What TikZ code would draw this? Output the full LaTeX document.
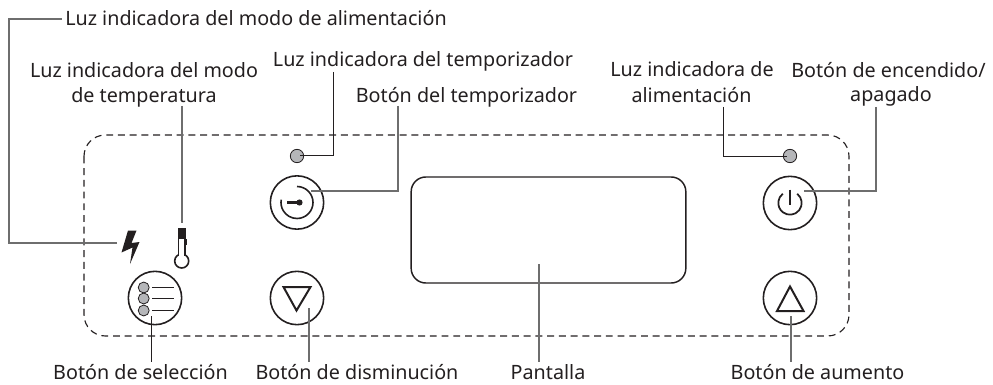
\documentclass[tikz,border=0pt]{standalone}
\usepackage{fontspec}
\setmainfont{Noto Sans}
\definecolor{ink}{HTML}{231F20}
\definecolor{ledgray}{HTML}{B5B6B9}
\definecolor{leadgray}{HTML}{6E6E6E}
\tikzset{
  label text/.style={anchor=base,inner sep=0pt,text=ink,font=\fontsize{14.8}{17}\selectfont},
  btn/.style={circle,draw=ink,line width=1.2pt,minimum size=40pt,inner sep=0pt},
  led/.style={circle,draw=ink,fill=ledgray,line width=0.6pt,minimum size=10pt,inner sep=0pt},
  leader/.style={draw=leadgray,line width=0.9pt},
  darkleader/.style={draw=ink,line width=0.7pt},
  icon/.style={draw=ink,line width=1.5pt},
}
\begin{document}
\begin{tikzpicture}[x=0.75pt,y=-0.75pt]
\useasboundingbox (0,0) rectangle (993,385);
% panel
\draw[ink,line width=0.85pt,dash pattern=on 5.2pt off 3.6pt,rounded corners=16pt] (84,135) rectangle (849,336);
\node[draw=ink,line width=1.1pt,rounded corners=11pt,minimum width=206pt,minimum height=79.5pt,inner sep=0pt] (display) at (548.5,230) {};
% buttons
\node[btn] (select) at (155,298) {};
\node[btn] (down) at (297,298) {};
\node[btn] (timer) at (297,202.5) {};
\node[btn] (power) at (790,203) {};
\node[btn] (up) at (790,298) {};
\node[led] (timerled) at (297,156) {};
\node[led] (powerled) at (790,156) {};
% select icon
\foreach \n/\y in {a/287.5,b/298.5,c/310.5}{
  \node[circle,draw=ink,fill=ledgray,line width=0.6pt,minimum size=8.2pt,inner sep=0pt] (dot\n) at (143.7,\y) {};
  \draw[ink,line width=1pt] (152,\y) -- (174,\y);
}
% triangles
\draw[icon,line join=miter] (283.5,287) -- (310.5,287) -- (296.5,310.5) -- cycle;
\draw[icon,line join=miter] (790,286.5) -- (803.5,311) -- (777,311) -- cycle;
% timer icon
\draw[ink,line width=1.2pt] (297,186.5) arc[start angle=-90,end angle=190,radius=16];
\draw[ink,line width=1.7pt] (287,202.5) -- (299,202.5);
\fill[ink] (299.5,202.5) circle[radius=3.1];
% power icon
\draw[ink,line width=1.3pt] (797.2,193.76) arc[start angle=-52,end angle=232,radius=11.7];
\draw[ink,line width=1.3pt] (790,189.5) -- (790,205);
% lightning
\fill[ink] (128,230.5) -- (136.5,230.5) -- (131.5,243) -- (139.5,242) -- (130,264) -- (132.5,247.5) -- (121.5,252.5) -- cycle;
% thermometer
\draw[ink,line width=1.2pt] (181.7,261) circle[radius=7];
\fill[white] (179,250) rectangle (184.6,258);
\draw[ink,line width=1.2pt] (178.6,238) -- (178.6,255.5) (184.9,238) -- (184.9,255.5);
\fill[ink] (177.8,227.5) rectangle (185.7,238.5);
\fill[ink] (184.5,238.5) rectangle (187,245);
% labels
\node[label text] (lpower) at (256,26) {Luz indicadora del modo de alimentación};
\node[label text] (ltemp1) at (144,77.7) {Luz indicadora del modo};
\node[label text] (ltemp2) at (144,103) {de temperatura};
\node[label text] (ltimerled) at (423,67) {Luz indicadora del temporizador};
\node[label text] (ltimer) at (466.5,102.7) {Botón del temporizador};
\node[label text] (lled1) at (692,76.7) {Luz indicadora de};
\node[label text] (lled2) at (691.5,102.7) {alimentación};
\node[label text] (lon1) at (888.5,77.5) {Botón de encendido/};
\node[label text] (lon2) at (891,102) {apagado};
\node[label text] (lsel) at (140.5,379.5) {Botón de selección};
\node[label text] (ldown) at (357,379.5) {Botón de disminución};
\node[label text] (lscreen) at (548,379.5) {Pantalla};
\node[label text] (lup) at (817.5,379.5) {Botón de aumento};
% connector ends
\coordinate (e1) at (117,243);
\coordinate (e1a) at (9,19);
\coordinate (e1b) at (62,19);
\coordinate (e2a) at (182,106);
\coordinate (e2b) at (182,223);
\coordinate (e3a) at (333,72);
\coordinate (e3b) at (300,155);
\coordinate (e4a) at (398,106);
\coordinate (e4b) at (311,191);
\coordinate (e5a) at (723,107);
\coordinate (e5b) at (787,156);
\coordinate (e6a) at (876,107);
\coordinate (e6b) at (804,191);
\coordinate (e7a) at (151,316);
\coordinate (e7b) at (151,361.5);
\coordinate (e8a) at (309,308);
\coordinate (e8b) at (309,361.5);
\coordinate (e9a) at (539,264);
\coordinate (e9b) at (539,362);
\coordinate (e10a) at (791,316);
\coordinate (e10b) at (791,362);
% connectors
\draw[leader] (e1) -| (e1a) -- (e1b);
\draw[leader] (e2a) -- (e2b);
\draw[darkleader] (e3a) |- (e3b);
\draw[leader] (e4a) |- (e4b);
\draw[darkleader] (e5a) |- (e5b);
\draw[leader] (e6a) |- (e6b);
\draw[darkleader] (e7a) -- (e7b);
\draw[leader] (e8a) -- (e8b);
\draw[leader] (e9a) -- (e9b);
\draw[leader] (e10a) -- (e10b);
\end{tikzpicture}
\end{document}
